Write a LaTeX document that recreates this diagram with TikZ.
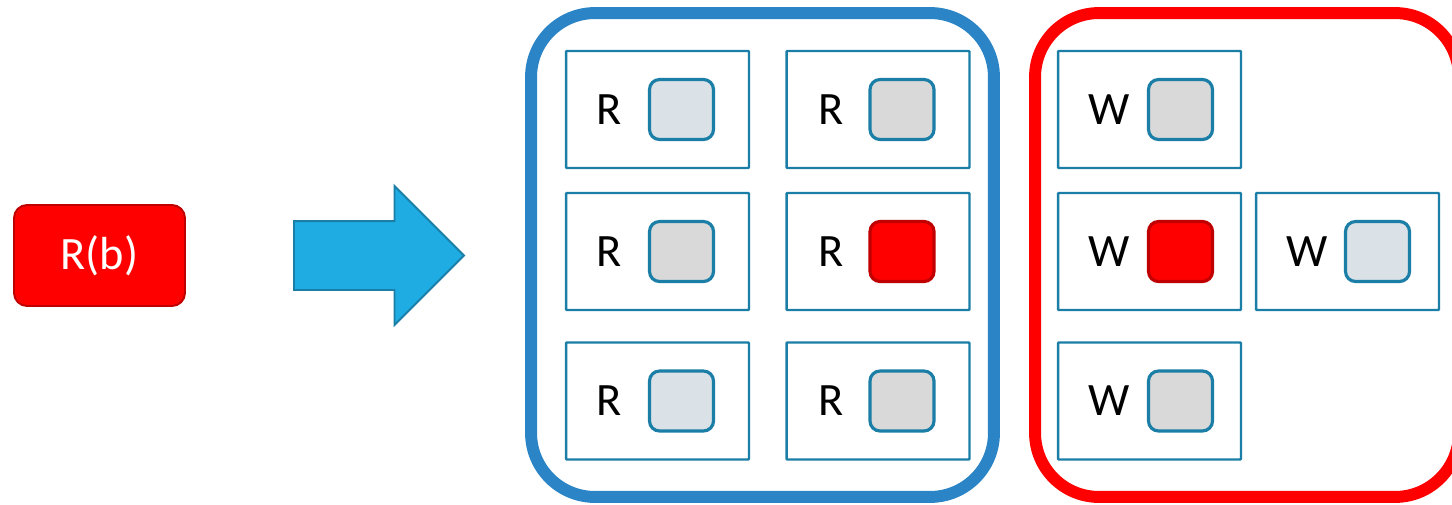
\documentclass[tikz,border=0pt]{standalone}
\usepackage{fontspec}
\setmainfont{Carlito}
\usetikzlibrary{positioning,shapes.arrows}

\definecolor{ramka}{RGB}{27,126,166}
\definecolor{strzalka}{RGB}{30,172,226}
\definecolor{niebieski}{RGB}{42,132,198}
\definecolor{ciemnoczerwony}{RGB}{192,0,0}
\definecolor{jasnoszary}{RGB}{218,225,231}
\definecolor{szary}{RGB}{217,217,217}

\begin{document}
\begin{tikzpicture}[x=0.02cm, y=-0.02cm, font=\fontsize{26.4}{30}\selectfont,
  grupa/.style={draw=#1, line width=6.8pt, rounded corners=1.28cm, minimum height=9.68cm, inner sep=0pt},
  pole/.style={draw=ramka, line width=1.4pt, fill=white, minimum width=3.66cm, minimum height=2.34cm, inner sep=0pt, rounded corners=0.5pt},
  kostka/.style={line width=1.8pt, minimum width=1.28cm, minimum height=1.2cm, inner sep=0pt, rounded corners=0.2cm},
  jasna/.style={kostka, draw=ramka, fill=jasnoszary},
  szara/.style={kostka, draw=ramka, fill=szary},
  czerwona/.style={kostka, draw=ciemnoczerwony, fill=red},
  litera/.style={inner sep=0pt}]

\useasboundingbox (0,0) rectangle (1452,504);

% Żądanie odczytu
\node[draw=ciemnoczerwony, fill=red, line width=1.1pt, rounded corners=0.26cm,
  minimum width=3.42cm, minimum height=2.02cm, text=white] (zad) at (99.5,255.5) {R(b)};

% Strzałka
\node[single arrow, draw=ramka, fill=strzalka, line width=1.1pt, inner xsep=0pt, inner ysep=0.67cm,
  minimum height=3.4cm, single arrow head extend=0.7cm,
  anchor=tail] (strz) at (293,255.5) {};

% Grupy: odczyty i zapisy
\node[grupa=niebieski, minimum width=9.26cm] (odczyt) at (762.5,255) {};
\node[grupa=red, minimum width=8.48cm] (zapis) at (1247,255) {};

% Pola z literą i kostką
\foreach \n/\x/\y/\lit/\lx/\sx/\styl in {
  r1/657.5/109.5/R/-48/24/jasna, r2/878/109.5/R/-47/24/szara,
  r3/657.5/251.5/R/-48/24/szara, r4/878/251.5/R/-47/24/czerwona,
  r5/657.5/401/R/-48/24/jasna, r6/878/401/R/-47/24/szara,
  w1/1149.5/109.5/W/-40/31/szara, w2/1149.5/251.5/W/-40/31/czerwona,
  w3/1347.5/251.5/W/-40/30/jasna, w4/1149.5/401/W/-40/31/szara}{
  \node[pole] (\n) at (\x,\y) {};
  \node[litera] (l\n) at ([xshift=\lx*0.02cm]\n.center) {\lit};
  \node[\styl] (k\n) at ([xshift=\sx*0.02cm]\n.center) {};
}

\end{tikzpicture}
\end{document}
